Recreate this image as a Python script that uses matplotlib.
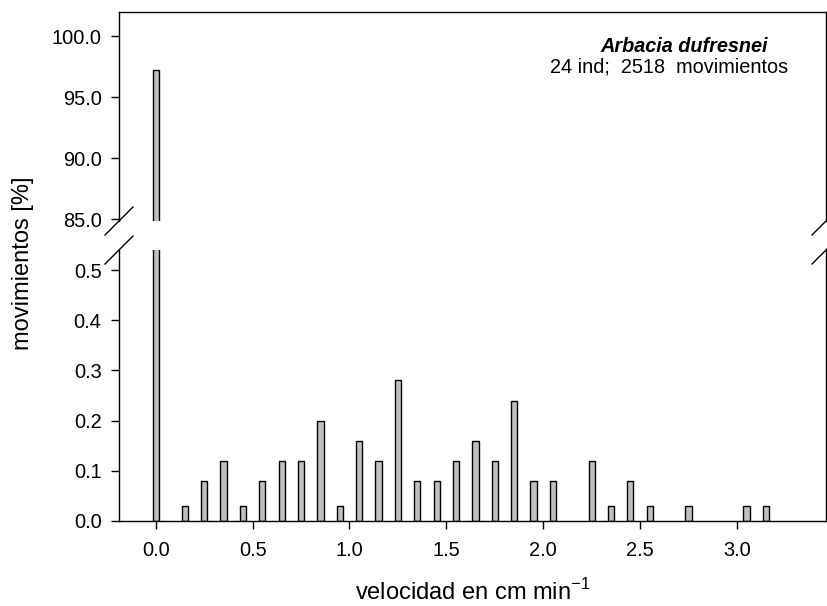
import numpy as np
import matplotlib.pyplot as plt
from matplotlib.ticker import FormatStrFormatter

plt.rcParams['font.family'] = ['Liberation Sans', 'DejaVu Sans']
plt.rcParams['mathtext.fontset'] = 'custom'
plt.rcParams['mathtext.rm'] = 'Liberation Sans'

# velocity classes (cm/min) and share of movements [%]
velocidad = [0.0, 0.15, 0.25, 0.35, 0.45, 0.55, 0.65, 0.75, 0.85, 0.95,
             1.05, 1.15, 1.25, 1.35, 1.45, 1.55, 1.65, 1.75, 1.85, 1.95,
             2.05, 2.25, 2.35, 2.45, 2.55, 2.75, 3.05, 3.15]
movimientos = [97.2, 0.03, 0.08, 0.12, 0.03, 0.08, 0.12, 0.12, 0.20, 0.03,
               0.16, 0.12, 0.28, 0.08, 0.08, 0.12, 0.16, 0.12, 0.24, 0.08,
               0.08, 0.12, 0.03, 0.08, 0.03, 0.03, 0.03, 0.03]

x_ticks = [0.0, 0.5, 1.0, 1.5, 2.0, 2.5, 3.0]
y_top_ticks = [85.0, 90.0, 95.0, 100.0]
y_low_ticks = [0.0, 0.1, 0.2, 0.3, 0.4, 0.5]

fig = plt.figure(figsize=(8.28, 6.06), dpi=100)
ax_top = fig.add_axes([0.1437, 0.6353, 0.8539, 0.3449])
ax_low = fig.add_axes([0.1437, 0.1403, 0.8539, 0.4472])

for ax in (ax_top, ax_low):
    ax.bar(velocidad, movimientos, width=0.032, color='#c0c0c0',
           edgecolor='black', linewidth=1.0)
    ax.set_xlim(-0.19, 3.46)
    ax.tick_params(direction='out', length=5.5, width=1, labelsize=14.4,
                   colors='black', right=False, top=False, pad=7)
    for s in ax.spines.values():
        s.set_linewidth(1.0)

ax_top.set_ylim(84.84, 101.97)
ax_top.set_yticks(y_top_ticks)
ax_top.yaxis.set_major_formatter(FormatStrFormatter('%.1f'))
ax_top.spines['bottom'].set_visible(False)
ax_top.tick_params(axis='x', bottom=False, labelbottom=False)

ax_low.set_ylim(0.0, 0.54)
ax_low.set_yticks(y_low_ticks)
ax_low.yaxis.set_major_formatter(FormatStrFormatter('%.1f'))
ax_low.set_xticks(x_ticks)
ax_low.xaxis.set_major_formatter(FormatStrFormatter('%.1f'))
ax_low.spines['top'].set_visible(False)
ax_low.tick_params(axis='x', pad=9)

# break marks on both spines
d = 14
for yy in (221, 250):
    for xx in (119, 826):
        fig.add_artist(plt.Line2D([(xx - d) / 828, (xx + d) / 828],
                                  [1 - (yy + d) / 606, 1 - (yy - d) / 606],
                                  color='black', linewidth=1.0))

fig.text(0.826, 0.924, 'Arbacia dufresnei', ha='center', va='center',
         fontsize=14.3, fontweight='bold', fontstyle='italic')
fig.text(0.808, 0.889, '24 ind;  2518  movimientos', ha='center', va='center',
         fontsize=14.3)

fig.text(0.028, 0.566, 'movimientos [%]', rotation=90, ha='center',
         va='center', fontsize=17)
fig.text(0.571, 0.023, 'velocidad en cm min$^{\\mathrm{-1}}$', ha='center',
         va='center', fontsize=17)

fig.savefig('out.png', dpi=100)
